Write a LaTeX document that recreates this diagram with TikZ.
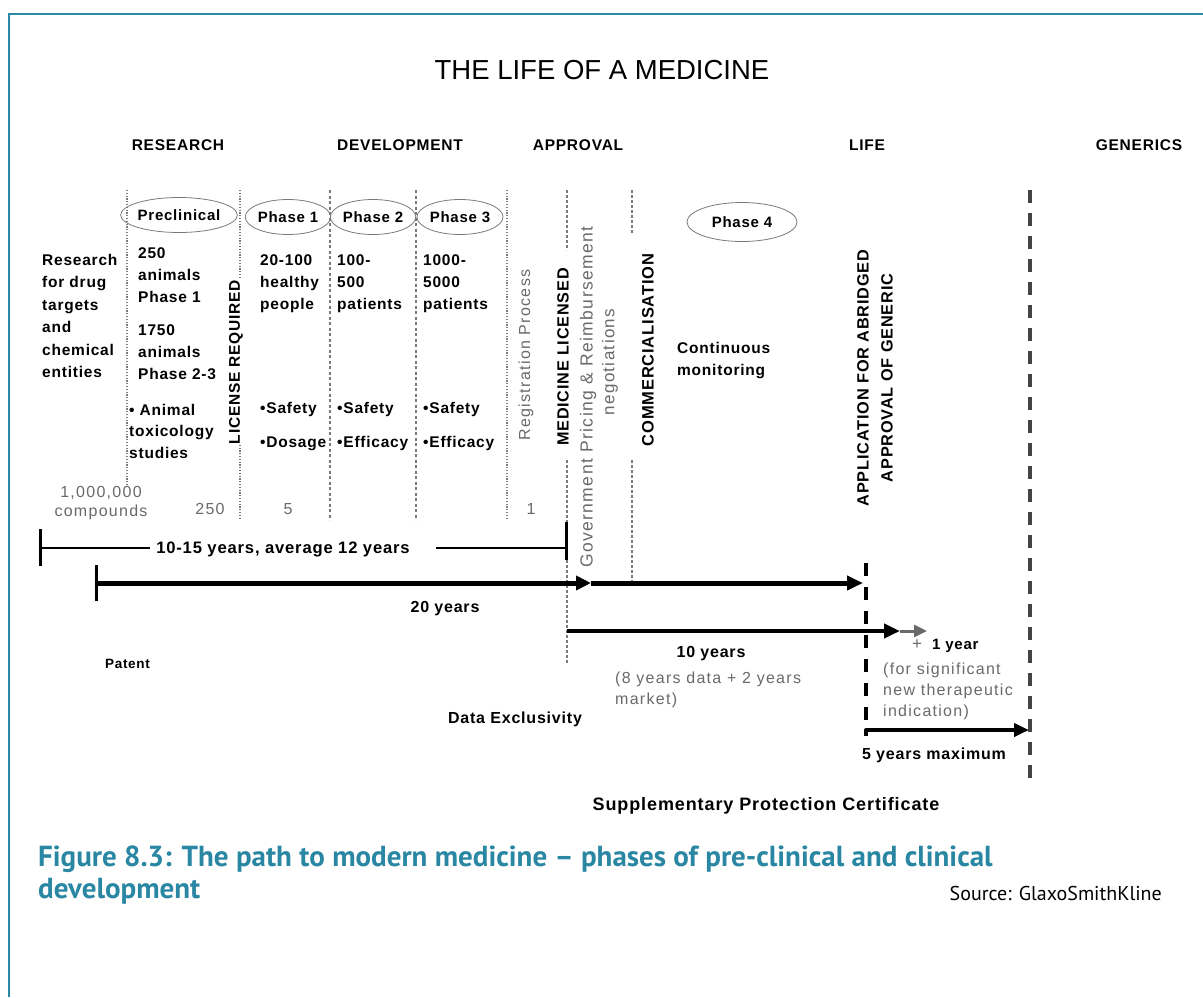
\documentclass[tikz,border=0pt]{standalone}
\usepackage{fontspec}
\setmainfont{Liberation Sans}
\newfontfamily\bodyfont[LetterSpace=5]{Liberation Sans}
\newfontfamily\greyfont[LetterSpace=8]{Liberation Sans}
\newfontfamily\capfont{PT Sans}
\usetikzlibrary{arrows.meta,shapes.geometric}
\definecolor{framec}{HTML}{2A8AA6}
\definecolor{captc}{HTML}{2A87A3}
\definecolor{txtgrey}{HTML}{6A6A6A}
\definecolor{linegrey}{HTML}{7A7A7A}
\definecolor{darkdash}{HTML}{444444}
\begin{document}
\begin{tikzpicture}[x=1pt,y=-1pt,
  bodytxt/.style={font=\bodyfont\bfseries\fontsize{15.5}{22.4}\selectfont, align=left, inner sep=0pt, anchor=north west},
  headtxt/.style={font=\bodyfont\bfseries\fontsize{15.5}{18}\selectfont, inner sep=0pt},
  greytxt/.style={font=\greyfont\fontsize{16}{21}\selectfont, text=txtgrey, align=left, inner sep=0pt},
  tltxt/.style={font=\bodyfont\bfseries\fontsize{16}{20}\selectfont, inner sep=0pt, anchor=base},
  vbold/.style={font=\bodyfont\bfseries\fontsize{15.5}{24}\selectfont, rotate=90, inner sep=0pt, align=center},
  vgrey/.style={font=\greyfont\fontsize{16}{22}\selectfont, text=txtgrey, rotate=90, inner sep=0pt},
  phase/.style={ellipse, draw=linegrey, line width=0.8pt, inner sep=0pt, font=\bodyfont\bfseries\fontsize{15}{18}\selectfont, minimum height=35pt},
  colsep/.style={draw=linegrey, line width=1.2pt, dash pattern=on 1.2pt off 1.6pt},
  coldash/.style={draw=linegrey, line width=1.2pt, dash pattern=on 3pt off 2.5pt},
  colthick/.style={draw=linegrey, line width=2.5pt, dash pattern=on 2.5pt off 2.5pt},
  bigtip/.style={-{Triangle[length=16pt,width=14pt]}},
]
\fill[white] (0,0) rectangle (1203,997);
\useasboundingbox (0,0) rectangle (1203,997);

% frame
\coordinate (fa) at (9,997);
\coordinate (fb) at (9,14);
\coordinate (fc) at (1203,14);
\draw[framec, line width=2.6pt] (fa) -- (fb) -- (fc);

% title and headers
\node[font=\fontsize{27.5}{32}\selectfont, inner sep=0pt] (title) at (602,70) {THE LIFE OF A MEDICINE};
\node[headtxt] (hres) at (178,145) {RESEARCH};
\node[headtxt] (hdev) at (400,145) {DEVELOPMENT};
\node[headtxt] (happ) at (578,145) {APPROVAL};
\node[headtxt] (hlife) at (867,145) {LIFE};
\node[headtxt] (hgen) at (1139,145) {GENERICS};

% column separators
\coordinate (s1t) at (127,190); \coordinate (s1b) at (127,486);
\coordinate (s2t) at (240,190); \coordinate (s2b) at (240,520);
\coordinate (s3t) at (330,190); \coordinate (s3b) at (330,520);
\coordinate (s4t) at (416,190); \coordinate (s4b) at (416,520);
\coordinate (s5t) at (507,190); \coordinate (s5b) at (507,520);
\draw[colsep] (s1t) -- (s1b);
\draw[colsep] (s2t) -- (s2b);
\draw[coldash] (s3t) -- (s3b);
\draw[coldash] (s4t) -- (s4b);
\draw[colsep] (s5t) -- (s5b);
\coordinate (mlt) at (567,190); \coordinate (mlm) at (567,250);
\coordinate (mln) at (567,460); \coordinate (mlb) at (567,663);
\draw[colthick] (mlt) -- (mlm);
\draw[colthick] (mln) -- (mlb);
\coordinate (cmt) at (632,190); \coordinate (cmm) at (632,233);
\coordinate (cmn) at (632,460); \coordinate (cmb) at (632,582);
\draw[colthick] (cmt) -- (cmm);
\draw[colthick] (cmn) -- (cmb);
\coordinate (gnt) at (1030,190); \coordinate (gnb) at (1030,780);
\draw[darkdash, line width=3.5pt, dash pattern=on 13pt off 10pt] (gnt) -- (gnb);

% phase ellipses
\node[phase, minimum width=102pt] (pre) at (179,215) {Preclinical};
\node[phase, minimum width=83pt] (ph1) at (288,217) {Phase 1};
\node[phase, minimum width=83pt] (ph2) at (373,217) {Phase 2};
\node[phase, minimum width=86pt] (ph3) at (460,217) {Phase 3};
\node[phase, minimum width=110pt, minimum height=39pt] (ph4) at (742,222) {Phase 4};

% column texts
\node[bodytxt] (research) at (42,254) {Research\\for drug\\targets\\and\\chemical\\entities};
\node[bodytxt] (a250) at (138,247) {250\\animals\\Phase 1};
\node[bodytxt] (a1750) at (138,324) {1750\\animals\\Phase 2-3};
\node[bodytxt, font=\bodyfont\bfseries\fontsize{15.5}{21.5}\selectfont] (tox) at (129,404) {\textbullet\ Animal\\toxicology\\studies};
\node[bodytxt] (p1txt) at (260,254) {20-100\\healthy\\people};
\node[bodytxt] (p2txt) at (337,254) {100-\\500\\patients};
\node[bodytxt] (p3txt) at (423,254) {1000-\\5000\\patients};
\node[bodytxt, font=\bodyfont\bfseries\fontsize{15.5}{34}\selectfont] (p1b) at (260,402) {\textbullet Safety\\\textbullet Dosage};
\node[bodytxt, font=\bodyfont\bfseries\fontsize{15.5}{34}\selectfont] (p2b) at (337,402) {\textbullet Safety\\\textbullet Efficacy};
\node[bodytxt, font=\bodyfont\bfseries\fontsize{15.5}{34}\selectfont] (p3b) at (423,402) {\textbullet Safety\\\textbullet Efficacy};
\node[bodytxt] (cont) at (677,342) {Continuous\\monitoring};

% rotated texts
\node[vbold, fill=white] (lic) at (236,362) {LICENSE REQUIRED};
\node[vgrey] (reg) at (526,355) {Registration Process};
\node[vbold, font=\bodyfont\bfseries\fontsize{16.2}{24}\selectfont] (medlic) at (563,357) {MEDICINE LICENSED};
\node[vgrey, font=\greyfont\fontsize{17.5}{22}\selectfont] (gov) at (588,397) {Government Pricing \& Reimbursement};
\node[vgrey, font=\greyfont\fontsize{17}{22}\selectfont] (neg) at (610,362) {negotiations};
\node[vbold, font=\bodyfont\bfseries\fontsize{16.5}{24}\selectfont] (comm) at (648,350) {COMMERCIALISATION};
\node[vbold, font=\bodyfont\bfseries\fontsize{16.3}{24}\selectfont] (abr) at (875,378) {APPLICATION FOR ABRIDGED\\APPROVAL OF GENERIC};

% counts
\node[greytxt, align=center, font=\greyfont\fontsize{16}{19}\selectfont] (mill) at (101,503) {1,000,000\\compounds};
\node[greytxt, anchor=base] (n250) at (210,514) {250};
\node[greytxt, anchor=base] (n5) at (288,514) {5};
\node[greytxt, anchor=base] (n1) at (531,514) {1};

% 10-15 years bar
\coordinate (ya) at (40,529); \coordinate (yb) at (40,566);
\coordinate (yl) at (40,548); \coordinate (ylm) at (150,548);
\coordinate (yrm) at (436,548); \coordinate (yr) at (566,548);
\coordinate (yc) at (566,522); \coordinate (yd) at (566,560);
\draw[line width=3pt] (ya) -- (yb);
\draw[line width=3pt] (yc) -- (yd);
\draw[line width=1.2pt] (yl) -- (ylm);
\draw[line width=1.2pt] (yrm) -- (yr);
\node[tltxt, font=\bodyfont\bfseries\fontsize{16.6}{20}\selectfont] (lbl1015) at (283,553.5) {10-15 years, average 12 years};

% 20 years patent arrow
\coordinate (pta) at (96,565); \coordinate (ptb) at (96,601);
\coordinate (p20a) at (96,583); \coordinate (p20m) at (591,583); \coordinate (p20b) at (863,583);
\draw[line width=3pt] (pta) -- (ptb);
\draw[line width=5pt, -{Triangle[length=15pt,width=14pt]}] (p20a) -- (p20m);
\draw[line width=5pt, bigtip] (p20m) -- (p20b);
\node[tltxt] (l20) at (445,612) {20 years};
\node[tltxt, anchor=base west, font=\bodyfont\bfseries\fontsize{13.5}{16}\selectfont] (patent) at (105,668) {Patent};

% 10 years data exclusivity arrow
\coordinate (p10a) at (567,631); \coordinate (p10b) at (900,631); \coordinate (p10g) at (927,631);
\draw[line width=4.5pt, bigtip] (p10a) -- (p10b);
\draw[txtgrey, line width=3pt, -{Triangle[length=13pt,width=12pt]}] (p10b) -- (p10g);
\node[tltxt] (l10) at (711,657) {10 years};
\node[greytxt, anchor=north west] (l10b) at (615,672) {(8 years data + 2 years\\market)};
\node[tltxt] (dex) at (515,723) {Data Exclusivity};
\node[tltxt, anchor=base west, font=\bodyfont\bfseries\fontsize{15}{20}\selectfont] (plus1) at (912,649) {{\color{txtgrey}\fontsize{17}{20}\selectfont\mdseries+}\hspace{10pt}1 year};
\node[greytxt, anchor=north west] (sig) at (883,663) {(for significant\\new therapeutic\\indication)};

% abridged approval line and SPC arrow
\coordinate (aa) at (866,563); \coordinate (ab) at (866,736);
\draw[line width=4pt, dash pattern=on 13pt off 11pt] (aa) -- (ab);
\coordinate (s5a) at (866,730); \coordinate (s5b) at (1029,730);
\draw[line width=4pt, line cap=round, -{Triangle[length=15pt,width=13pt]}] (s5a) -- (s5b);
\node[tltxt] (l5) at (934,759) {5 years maximum};
\node[tltxt, font=\bodyfont\bfseries\fontsize{18}{22}\selectfont] (spc) at (766,810) {Supplementary Protection Certificate};

% caption
\node[font=\capfont\bfseries\fontsize{29}{32}\selectfont, text=captc, align=left, inner sep=0pt, anchor=north west] (cap) at (38,846) {Figure 8.3: The path to modern medicine – phases of pre-clinical and clinical\\development};
\node[font=\capfont\fontsize{20}{24}\selectfont, inner sep=0pt, anchor=base east] (src) at (1162,900) {Source: GlaxoSmithKline};
\end{tikzpicture}
\end{document}
